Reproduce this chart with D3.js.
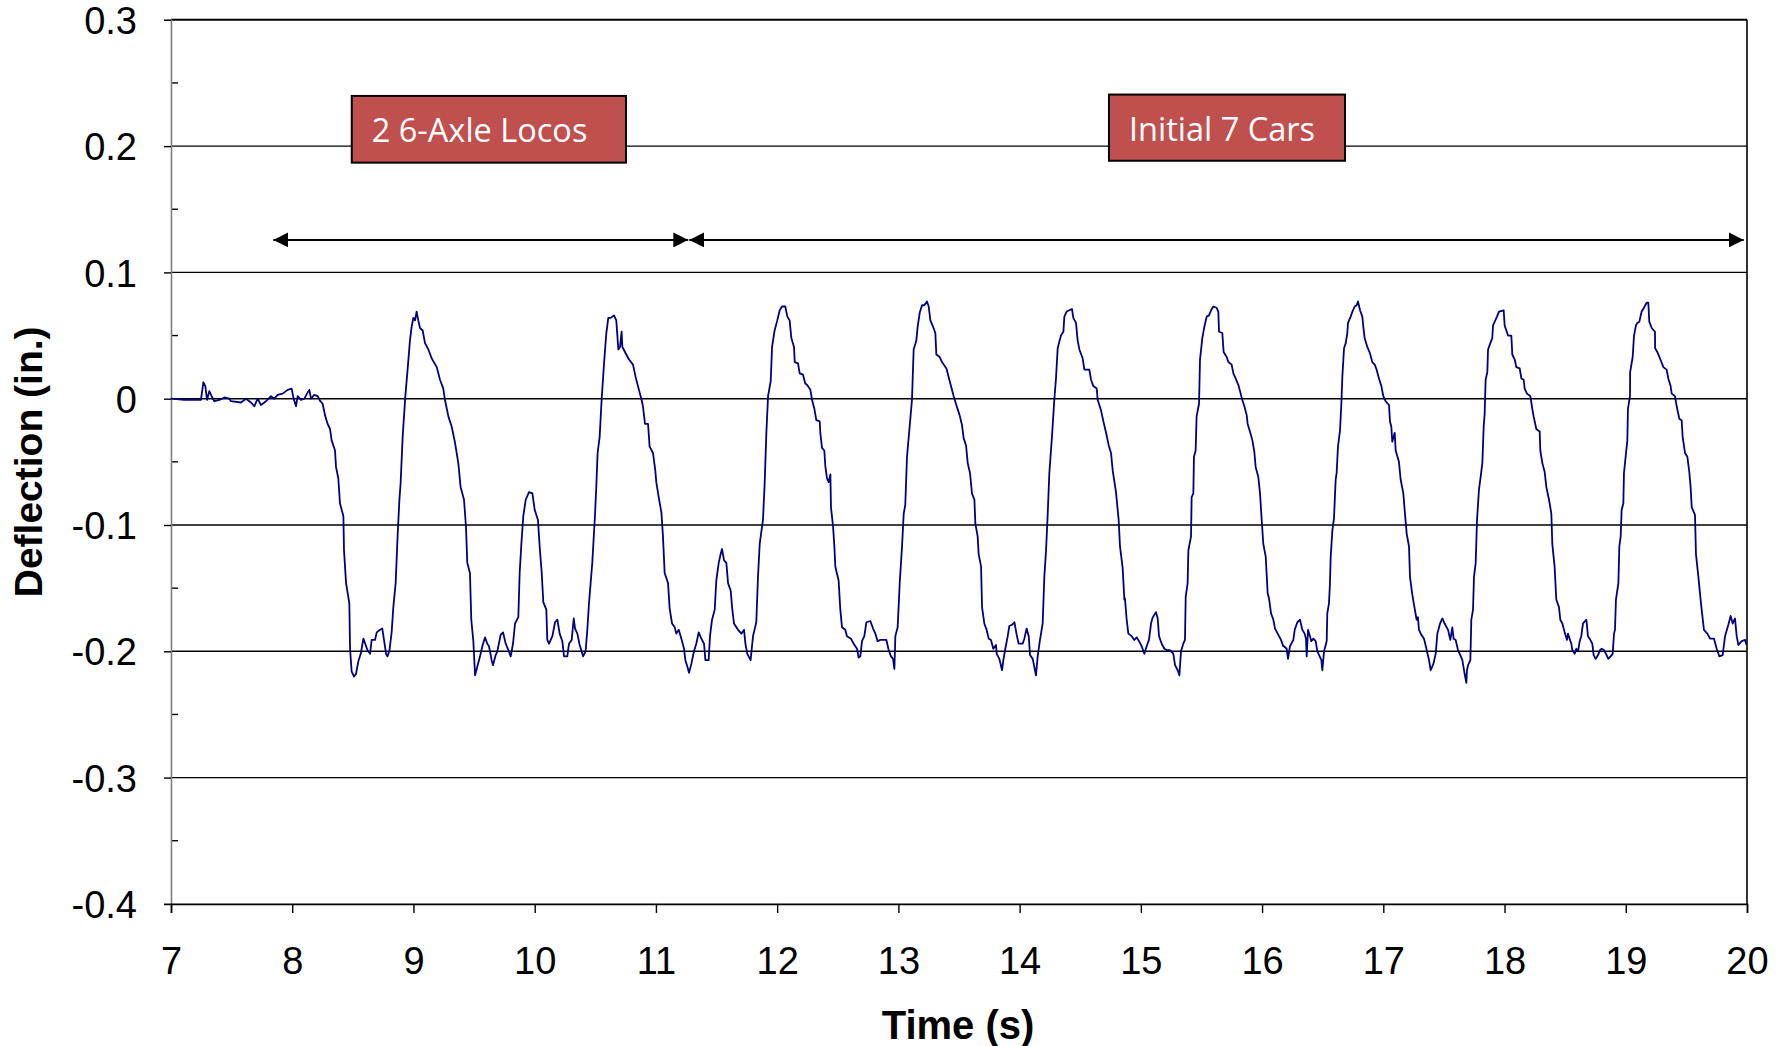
<!DOCTYPE html>
<html><head><meta charset="utf-8">
<script src="https://cdn.jsdelivr.net/npm/d3@7"></script>
<style>body{margin:0;background:#fff;} svg{display:block;}</style>
</head><body>
<svg id="chart" width="1787" height="1046"></svg>
<script>
// ---- data: time (s), deflection (in.) ----
const samples = [
[7.000,0.000],[7.110,-0.001],[7.247,-0.001],[7.267,0.013],[7.283,0.010],[7.297,-0.001],[7.316,0.006],[7.335,0.002],[7.357,-0.002],[7.400,-0.001],[7.440,0.001],[7.481,0.000],[7.495,-0.002],[7.577,-0.003],[7.619,0.000],[7.660,-0.003],[7.687,-0.006],[7.715,0.000],[7.742,-0.005],[7.784,-0.002],[7.825,0.002],[7.852,0.000],[7.880,0.003],[7.921,0.004],[7.962,0.007],[7.995,0.008],[8.012,0.000],[8.031,-0.006],[8.045,0.002],[8.072,-0.001],[8.100,0.000],[8.122,0.004],[8.141,0.007],[8.155,0.000],[8.182,0.003],[8.210,0.002],[8.232,-0.002],[8.251,-0.004],[8.270,-0.013],[8.292,-0.020],
[8.312,-0.024],[8.325,-0.033],[8.353,-0.041],[8.361,-0.054],[8.380,-0.063],[8.394,-0.083],[8.422,-0.093],[8.427,-0.120],[8.444,-0.146],[8.471,-0.162],[8.477,-0.198],[8.490,-0.216],[8.510,-0.220],[8.526,-0.218],[8.545,-0.208],[8.565,-0.202],[8.587,-0.190],[8.606,-0.195],[8.620,-0.199],[8.642,-0.202],[8.655,-0.191],[8.683,-0.191],[8.697,-0.185],[8.724,-0.183],[8.743,-0.182],[8.757,-0.191],[8.774,-0.202],[8.785,-0.204],[8.801,-0.200],[8.820,-0.185],[8.834,-0.165],[8.853,-0.146],[8.870,-0.107],[8.884,-0.080],[8.894,-0.067],[8.911,-0.030],[8.933,0.002],[8.949,0.020],[8.971,0.046],[8.985,0.057],[8.999,0.064],[9.013,0.062],[9.026,0.069],[9.040,0.062],[9.054,0.056],[9.076,0.054],[9.095,0.044],[9.123,0.039],[9.150,0.032],[9.192,0.025],[9.219,0.015],[9.246,0.008],[9.260,-0.001],[9.288,-0.014],[9.315,-0.022],[9.343,-0.035],[9.370,-0.051],[9.389,-0.070],[9.417,-0.080],[9.433,-0.101],[9.444,-0.130],[9.466,-0.138],[9.477,-0.175],[9.494,-0.192],[9.508,-0.219],[9.527,-0.212],[9.549,-0.204],[9.571,-0.195],[9.590,-0.189],[9.609,-0.194],
[9.623,-0.196],[9.645,-0.207],[9.656,-0.211],[9.678,-0.203],[9.692,-0.200],[9.719,-0.187],[9.739,-0.185],[9.761,-0.194],[9.783,-0.199],[9.802,-0.204],[9.821,-0.194],[9.838,-0.178],[9.865,-0.173],[9.876,-0.138],[9.890,-0.115],[9.906,-0.093],[9.926,-0.080],[9.953,-0.074],[9.981,-0.075],[10.000,-0.088],[10.027,-0.096],[10.041,-0.117],[10.058,-0.138],[10.071,-0.161],[10.096,-0.167],[10.104,-0.191],[10.118,-0.194],[10.146,-0.188],[10.168,-0.177],[10.187,-0.175],[10.206,-0.186],[10.228,-0.192],[10.242,-0.204],[10.269,-0.204],[10.283,-0.194],[10.305,-0.191],[10.322,-0.174],[10.333,-0.182],[10.352,-0.186],[10.371,-0.195],[10.399,-0.204],[10.420,-0.200],[10.434,-0.183],[10.448,-0.162],[10.475,-0.130],[10.497,-0.093],[10.508,-0.070],[10.519,-0.043],[10.536,-0.030],[10.552,-0.001],[10.572,0.028],[10.591,0.052],[10.607,0.064],[10.627,0.064],[10.654,0.066],[10.673,0.062],[10.690,0.039],[10.704,0.041],[10.717,0.053],[10.723,0.041],[10.750,0.036],[10.778,0.031],[10.811,0.027],[10.833,0.017],[10.860,0.007],[10.882,-0.001],[10.893,-0.006],[10.910,-0.020],
[10.935,-0.020],[10.948,-0.038],[10.976,-0.043],[10.995,-0.057],[11.003,-0.066],[11.023,-0.078],[11.045,-0.090],[11.058,-0.109],[11.072,-0.138],[11.100,-0.146],[11.113,-0.166],[11.133,-0.178],[11.155,-0.181],[11.168,-0.186],[11.188,-0.183],[11.210,-0.190],[11.232,-0.198],[11.243,-0.207],[11.259,-0.212],[11.273,-0.217],[11.292,-0.210],[11.314,-0.200],[11.333,-0.194],[11.353,-0.185],[11.375,-0.190],[11.397,-0.194],[11.408,-0.207],[11.435,-0.207],[11.446,-0.188],[11.463,-0.175],[11.485,-0.167],[11.498,-0.144],[11.518,-0.130],[11.534,-0.123],[11.545,-0.119],[11.562,-0.128],[11.581,-0.130],[11.595,-0.146],[11.617,-0.152],[11.628,-0.165],[11.644,-0.178],[11.677,-0.183],[11.705,-0.186],[11.727,-0.183],[11.738,-0.194],[11.754,-0.202],[11.781,-0.207],[11.801,-0.188],[11.828,-0.177],[11.842,-0.141],[11.856,-0.115],[11.883,-0.096],[11.897,-0.067],[11.911,-0.027],[11.925,0.002],[11.947,0.014],[11.958,0.041],[11.979,0.054],[12.001,0.062],[12.021,0.070],[12.040,0.073],[12.067,0.073],[12.084,0.065],[12.103,0.062],[12.117,0.048],[12.139,0.041],[12.145,0.029],[12.172,0.028],[12.186,0.020],[12.213,0.019],[12.232,0.012],
[12.246,0.011],[12.274,0.007],[12.288,-0.001],[12.307,-0.008],[12.323,-0.017],[12.351,-0.018],[12.356,-0.027],[12.370,-0.039],[12.389,-0.041],[12.397,-0.053],[12.411,-0.063],[12.425,-0.066],[12.439,-0.060],[12.444,-0.086],[12.461,-0.101],[12.472,-0.117],[12.480,-0.133],[12.507,-0.144],[12.521,-0.167],[12.535,-0.181],[12.562,-0.183],[12.576,-0.188],[12.609,-0.190],[12.631,-0.194],[12.659,-0.198],[12.672,-0.205],[12.686,-0.204],[12.700,-0.192],[12.719,-0.188],[12.736,-0.177],[12.769,-0.176],[12.791,-0.182],[12.810,-0.186],[12.829,-0.192],[12.851,-0.191],[12.879,-0.191],[12.901,-0.191],[12.920,-0.199],[12.939,-0.204],[12.956,-0.206],[12.967,-0.214],[12.975,-0.188],[12.994,-0.181],[13.011,-0.146],[13.030,-0.117],[13.044,-0.091],[13.057,-0.084],[13.071,-0.046],[13.093,-0.022],[13.112,-0.001],[13.126,0.039],[13.148,0.046],[13.159,0.057],[13.176,0.068],[13.195,0.074],[13.214,0.074],[13.236,0.077],[13.250,0.073],[13.264,0.062],[13.286,0.057],[13.305,0.052],[13.313,0.035],[13.341,0.033],[13.360,0.029],[13.396,0.024],[13.415,0.017],[13.434,0.010],[13.456,0.002],[13.478,-0.005],[13.505,-0.013],[13.525,-0.021],[13.538,-0.031],
[13.558,-0.037],[13.572,-0.051],[13.591,-0.059],[13.607,-0.075],[13.627,-0.080],[13.635,-0.099],[13.654,-0.109],[13.662,-0.123],[13.682,-0.133],[13.690,-0.165],[13.709,-0.178],[13.728,-0.183],[13.745,-0.190],[13.764,-0.191],[13.783,-0.198],[13.805,-0.195],[13.811,-0.202],[13.833,-0.206],[13.855,-0.215],[13.866,-0.207],[13.882,-0.198],[13.902,-0.188],[13.915,-0.180],[13.937,-0.179],[13.957,-0.177],[13.976,-0.187],[13.992,-0.194],[14.025,-0.194],[14.039,-0.190],[14.058,-0.182],[14.075,-0.188],[14.086,-0.203],[14.108,-0.206],[14.135,-0.219],[14.149,-0.204],[14.168,-0.191],[14.190,-0.178],[14.204,-0.141],[14.218,-0.120],[14.231,-0.093],[14.245,-0.059],[14.267,-0.030],[14.286,-0.001],[14.300,0.016],[14.314,0.040],[14.341,0.050],[14.361,0.053],[14.369,0.065],[14.388,0.069],[14.410,0.070],[14.432,0.071],[14.443,0.064],[14.465,0.060],[14.479,0.046],[14.493,0.039],[14.520,0.032],[14.534,0.023],[14.553,0.023],[14.575,0.023],[14.589,0.015],[14.608,0.010],[14.636,0.008],[14.644,-0.001],[14.671,-0.009],[14.691,-0.018],[14.713,-0.027],[14.735,-0.037],[14.754,-0.043],[14.768,-0.057],[14.795,-0.074],[14.817,-0.096],[14.828,-0.117],[14.850,-0.134],[14.864,-0.159],
[14.869,-0.158],[14.883,-0.175],[14.897,-0.186],[14.924,-0.188],[14.946,-0.191],[14.966,-0.189],[14.985,-0.192],[15.007,-0.196],[15.029,-0.202],[15.048,-0.196],[15.067,-0.191],[15.084,-0.178],[15.095,-0.174],[15.111,-0.171],[15.125,-0.169],[15.139,-0.174],[15.150,-0.188],[15.172,-0.194],[15.194,-0.198],[15.213,-0.199],[15.241,-0.199],[15.268,-0.202],[15.282,-0.211],[15.304,-0.215],[15.318,-0.219],[15.331,-0.200],[15.350,-0.194],[15.364,-0.191],[15.370,-0.157],[15.386,-0.146],[15.392,-0.120],[15.414,-0.109],[15.419,-0.078],[15.433,-0.075],[15.438,-0.046],[15.452,-0.041],[15.460,-0.014],[15.480,-0.004],[15.488,0.031],[15.507,0.048],[15.524,0.057],[15.543,0.065],[15.562,0.066],[15.579,0.070],[15.598,0.073],[15.625,0.072],[15.639,0.069],[15.645,0.053],[15.672,0.052],[15.683,0.037],[15.708,0.033],[15.722,0.029],[15.749,0.027],[15.763,0.020],[15.782,0.016],[15.804,0.011],[15.818,0.006],[15.837,-0.001],[15.854,-0.006],[15.873,-0.013],[15.881,-0.020],[15.900,-0.026],[15.920,-0.033],[15.936,-0.042],[15.947,-0.054],[15.969,-0.062],[15.983,-0.075],[15.997,-0.096],[16.010,-0.115],[16.030,-0.125],[16.046,-0.154],[16.057,-0.158],[16.074,-0.170],[16.093,-0.175],[16.107,-0.182],[16.134,-0.187],[16.156,-0.191],[16.175,-0.196],
[16.181,-0.196],[16.203,-0.198],[16.214,-0.206],[16.230,-0.196],[16.258,-0.191],[16.269,-0.183],[16.291,-0.177],[16.313,-0.175],[16.332,-0.183],[16.351,-0.186],[16.362,-0.190],[16.368,-0.204],[16.379,-0.183],[16.395,-0.188],[16.406,-0.192],[16.423,-0.190],[16.442,-0.192],[16.456,-0.200],[16.475,-0.204],[16.489,-0.207],[16.497,-0.215],[16.511,-0.200],[16.533,-0.192],[16.538,-0.170],[16.552,-0.162],[16.560,-0.146],[16.566,-0.125],[16.580,-0.104],[16.593,-0.095],[16.607,-0.064],[16.615,-0.059],[16.626,-0.038],[16.643,-0.025],[16.654,-0.004],[16.662,0.017],[16.676,0.040],[16.690,0.044],[16.703,0.052],[16.709,0.060],[16.731,0.065],[16.745,0.069],[16.764,0.073],[16.780,0.074],[16.791,0.077],[16.808,0.070],[16.827,0.065],[16.835,0.057],[16.846,0.048],[16.868,0.041],[16.890,0.036],[16.909,0.029],[16.929,0.027],[16.945,0.023],[16.964,0.016],[16.984,0.010],[17.000,0.002],[17.019,-0.002],[17.047,-0.005],[17.055,-0.018],[17.066,-0.022],[17.074,-0.034],[17.094,-0.027],[17.102,-0.041],[17.129,-0.050],[17.143,-0.064],[17.165,-0.075],[17.176,-0.088],[17.193,-0.107],[17.212,-0.117],[17.220,-0.141],[17.239,-0.155],[17.253,-0.163],[17.275,-0.175],[17.286,-0.173],[17.294,-0.183],[17.314,-0.187],[17.336,-0.190],[17.358,-0.199],[17.377,-0.207],[17.391,-0.215],[17.413,-0.210],[17.432,-0.202],[17.446,-0.186],[17.468,-0.178],[17.487,-0.174],
[17.506,-0.178],[17.534,-0.183],[17.553,-0.191],[17.569,-0.181],[17.580,-0.190],[17.597,-0.191],[17.616,-0.199],[17.635,-0.203],[17.652,-0.207],[17.671,-0.218],[17.685,-0.225],[17.690,-0.215],[17.699,-0.211],[17.718,-0.207],[17.726,-0.175],[17.740,-0.167],[17.748,-0.141],[17.762,-0.130],[17.773,-0.096],[17.789,-0.072],[17.800,-0.064],[17.817,-0.051],[17.828,-0.022],[17.836,-0.012],[17.844,0.015],[17.858,0.021],[17.864,0.039],[17.883,0.044],[17.899,0.048],[17.905,0.058],[17.919,0.061],[17.938,0.065],[17.954,0.069],[17.993,0.070],[18.001,0.058],[18.015,0.054],[18.029,0.050],[18.056,0.050],[18.064,0.035],[18.084,0.031],[18.097,0.025],[18.125,0.024],[18.139,0.016],[18.158,0.015],[18.166,0.008],[18.185,0.004],[18.213,0.002],[18.229,-0.008],[18.240,-0.014],[18.262,-0.024],[18.290,-0.026],[18.295,-0.041],[18.312,-0.051],[18.331,-0.058],[18.345,-0.070],[18.367,-0.080],[18.386,-0.091],[18.394,-0.115],[18.413,-0.133],[18.427,-0.159],[18.449,-0.165],[18.460,-0.175],[18.477,-0.178],[18.496,-0.185],[18.515,-0.191],[18.523,-0.186],[18.537,-0.190],[18.551,-0.194],[18.559,-0.199],[18.579,-0.202],[18.592,-0.198],[18.606,-0.200],[18.620,-0.192],[18.633,-0.188],[18.647,-0.178],[18.675,-0.175],[18.688,-0.188],[18.702,-0.190],[18.724,-0.194],[18.735,-0.203],[18.752,-0.206],[18.771,-0.203],
[18.788,-0.199],[18.801,-0.198],[18.820,-0.199],[18.837,-0.202],[18.856,-0.206],[18.875,-0.204],[18.892,-0.202],[18.903,-0.186],[18.911,-0.183],[18.919,-0.159],[18.939,-0.146],[18.947,-0.117],[18.958,-0.109],[18.966,-0.088],[18.980,-0.083],[18.985,-0.059],[19.002,-0.043],[19.013,-0.033],[19.018,-0.008],[19.035,0.002],[19.036,0.021],[19.057,0.033],[19.068,0.050],[19.084,0.058],[19.095,0.060],[19.112,0.061],[19.131,0.069],[19.150,0.072],[19.172,0.076],[19.186,0.076],[19.194,0.061],[19.214,0.056],[19.241,0.053],[19.242,0.040],[19.260,0.037],[19.282,0.032],[19.310,0.025],[19.337,0.023],[19.351,0.016],[19.370,0.010],[19.379,0.004],[19.406,0.002],[19.420,-0.006],[19.442,-0.016],[19.461,-0.017],[19.469,-0.030],[19.489,-0.043],[19.508,-0.046],[19.524,-0.058],[19.535,-0.070],[19.544,-0.086],[19.571,-0.092],[19.579,-0.123],[19.599,-0.141],[19.612,-0.154],[19.626,-0.167],[19.645,-0.183],[19.673,-0.186],[19.695,-0.190],[19.728,-0.190],[19.750,-0.198],[19.772,-0.204],[19.799,-0.203],[19.819,-0.188],[19.846,-0.179],[19.865,-0.172],[19.882,-0.178],[19.901,-0.174],[19.915,-0.188],[19.929,-0.195],[19.956,-0.192],[19.984,-0.191],[19.997,-0.195]
];

const xTicks = [7,8,9,10,11,12,13,14,15,16,17,18,19,20];
const yTicks = [0.3,0.2,0.1,0,-0.1,-0.2,-0.3,-0.4];
const yTickLabels = ["0.3","0.2","0.1","0","-0.1","-0.2","-0.3","-0.4"];
const yMinorTicks = [0.25,0.15,0.05,-0.05,-0.15,-0.25,-0.35];
const boxLabels = [
  {text:"2 6-Axle Locos", t0:8.491, t1:10.753, vTop:0.2397, vBot:0.1869},
  {text:"Initial 7 Cars",  t0:14.737, t1:16.684, vTop:0.2408, vBot:0.1884}
];
const spans = [
  {t0:7.844, t1:11.267, v:0.1257},
  {t0:11.275, t1:19.973, v:0.1257}
];
const xTitle = "Time (s)";
const yTitle = "Deflection (in.)";

// ---- drawing ----
const svg = d3.select("#chart");
const L = 171, R = 1747, T = 19.8, B = 903.9;
const x = d3.scaleLinear().domain([7,20]).range([L,R]);
const y = d3.scaleLinear().domain([-0.4,0.3]).range([B,T]);
const tickFont = "'Liberation Sans', Arial, sans-serif";

// gridlines
svg.append("g").selectAll("line").data(yTicks.filter(v => v > -0.4 && v < 0.3)).join("line")
  .attr("x1",L).attr("x2",R).attr("y1",d=>y(d)).attr("y2",d=>y(d))
  .attr("stroke","#000").attr("stroke-width",1.4);

// frame: top and right
svg.append("line").attr("x1",L).attr("x2",R).attr("y1",y(0.3)).attr("y2",y(0.3)).attr("stroke","#000").attr("stroke-width",2);
svg.append("line").attr("x1",R).attr("x2",R).attr("y1",y(0.3)).attr("y2",y(-0.4)).attr("stroke","#000").attr("stroke-width",1.6);

// minor ticks inside on y axis
svg.append("g").selectAll("line").data(yMinorTicks).join("line")
  .attr("x1",L).attr("x2",L+7).attr("y1",d=>y(d)).attr("y2",d=>y(d))
  .attr("stroke","#000").attr("stroke-width",1.4);

// axes
const yAxis = d3.axisLeft(y).tickValues(yTicks).tickSize(7).tickPadding(27)
  .tickFormat((d,i)=>yTickLabels[i]);
const gy = svg.append("g").attr("transform",`translate(${L},0)`).call(yAxis);
gy.select(".domain").attr("stroke","#7f7f7f").attr("stroke-width",1.6);
gy.selectAll(".tick line").attr("stroke","#000").attr("stroke-width",1.4);
gy.selectAll("text").attr("font-family",tickFont).attr("font-size",38).attr("fill","#000").attr("dy","0.36em");

const xAxis = d3.axisBottom(x).tickValues(xTicks).tickSize(9).tickPadding(34).tickFormat(d3.format("d"));
const gx = svg.append("g").attr("transform",`translate(0,${B})`).call(xAxis);
gx.select(".domain").attr("stroke","#000").attr("stroke-width",1.6);
gx.selectAll(".tick line").attr("stroke","#000").attr("stroke-width",1.4);
gx.selectAll("text").attr("font-family",tickFont).attr("font-size",38).attr("fill","#000");

// series
const line = d3.line().x(d=>x(d[0])).y(d=>y(d[1]));
svg.append("path").datum(samples).attr("d",line)
  .attr("fill","none").attr("stroke","#000080").attr("stroke-width",1.8).attr("stroke-linejoin","round");

// span arrows
const defs = svg.append("defs");
defs.append("marker").attr("id","ah").attr("viewBox","0 0 15 15").attr("refX",15).attr("refY",7.5)
  .attr("markerWidth",15).attr("markerHeight",15).attr("markerUnits","userSpaceOnUse").attr("orient","auto-start-reverse")
  .append("path").attr("d","M0,0L15,7.5L0,15Z").attr("fill","#000");
svg.append("g").selectAll("line").data(spans).join("line")
  .attr("x1",d=>x(d.t0)).attr("x2",d=>x(d.t1)).attr("y1",d=>y(d.v)).attr("y2",d=>y(d.v))
  .attr("stroke","#000").attr("stroke-width",2)
  .attr("marker-start","url(#ah)").attr("marker-end","url(#ah)");

// label boxes
const bg = svg.append("g").selectAll("g").data(boxLabels).join("g");
bg.append("rect").attr("x",d=>x(d.t0)).attr("y",d=>y(d.vTop))
  .attr("width",d=>x(d.t1)-x(d.t0)).attr("height",d=>y(d.vBot)-y(d.vTop))
  .attr("fill","#C0504D").attr("stroke","#000").attr("stroke-width",2);
bg.append("text").attr("x",d=>x(d.t0)+20).attr("y",d=>(y(d.vTop)+y(d.vBot))/2+13)
  .attr("font-family","'Open Sans', sans-serif").attr("font-size",32.5).attr("fill","#fff").text(d=>d.text);

// titles
svg.append("text").attr("x",(L+R)/2 - 1).attr("y",1039).attr("text-anchor","middle")
  .attr("font-family",tickFont).attr("font-weight","bold").attr("font-size",40).text(xTitle);
svg.append("text").attr("transform",`translate(42,${(T+B)/2}) rotate(-90)`).attr("text-anchor","middle")
  .attr("font-family",tickFont).attr("font-weight","bold").attr("font-size",39).text(yTitle);
</script>
</body></html>
